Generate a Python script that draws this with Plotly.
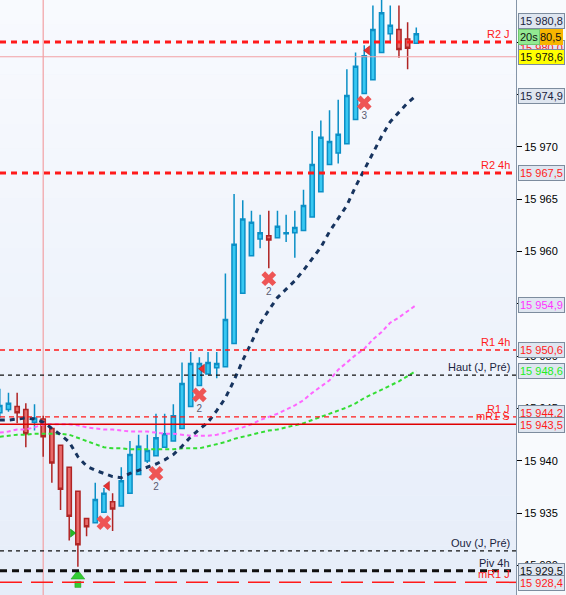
import plotly.graph_objects as go

# ---------------- data ----------------
candle_index = list(range(1, 50))
open_ = [15944.6, 15944.9, 15945.2, 15944.9, 15943.7, 15944.0, 15943.1, 15941.5, 15939.4, 15937.1,
         15934.5, 15934.1, 15935.1, 15936.1, 15935.7, 15936.9, 15938.7, 15940.0, 15940.5, 15941.3,
         15941.9, 15943.1, 15945.2, 15947.2, 15948.3, 15948.9, 15949.0, 15951.2, 15956.0, 15959.6,
         15961.2, 15961.5, 15961.3, 15961.7, 15961.8, 15962.0, 15963.3, 15965.7, 15968.3, 15969.4,
         15970.3, 15972.6, 15975.1, 15976.4, 15979.0, 15980.8, 15981.2, 15980.3, 15979.9]
high = [15946.9, 15946.5, 15946.5, 15945.5, 15945.4, 15944.3, 15943.1, 15941.5, 15939.4, 15937.1,
        15934.5, 15937.9, 15937.4, 15936.9, 15939.4, 15941.9, 15942.5, 15942.5, 15944.5, 15944.5,
        15945.4, 15949.4, 15950.4, 15949.9, 15950.4, 15950.4, 15957.9, 15965.5, 15964.9, 15963.9,
        15963.5, 15963.9, 15963.9, 15963.5, 15963.9, 15965.9, 15971.5, 15972.5, 15973.5, 15974.5,
        15977.4, 15979.0, 15979.7, 15983.5, 15984.5, 15983.5, 15983.5, 15981.9, 15981.4]
low = [15944.1, 15944.7, 15943.6, 15941.3, 15942.9, 15940.4, 15937.9, 15935.3, 15932.4, 15929.9,
       15932.8, 15934.1, 15935.1, 15933.3, 15935.7, 15936.9, 15938.7, 15939.8, 15940.5, 15941.3,
       15941.9, 15943.1, 15945.2, 15947.2, 15948.3, 15947.9, 15949.0, 15951.2, 15956.0, 15959.6,
       15960.3, 15958.4, 15961.3, 15960.9, 15959.4, 15962.0, 15963.3, 15965.7, 15968.3, 15968.4,
       15970.3, 15972.6, 15975.1, 15976.4, 15979.0, 15979.9, 15978.5, 15977.4, 15979.9]
close = [15945.3, 15945.5, 15944.6, 15942.6, 15944.1, 15942.3, 15939.8, 15937.3, 15934.7, 15932.0,
         15933.7, 15936.3, 15936.9, 15935.4, 15938.1, 15940.6, 15941.4, 15941.0, 15942.2, 15942.6,
         15944.3, 15947.4, 15949.3, 15949.3, 15949.4, 15949.3, 15953.5, 15960.7, 15963.1, 15962.8,
         15961.8, 15961.1, 15962.4, 15961.8, 15962.3, 15964.4, 15968.3, 15970.9, 15970.5, 15971.2,
         15974.9, 15977.7, 15978.7, 15981.2, 15982.8, 15981.6, 15979.3, 15979.4, 15980.8]

ma_navy = [15943.9, 15943.9, 15944.0, 15944.1, 15944.0, 15943.7, 15943.1, 15942.5, 15941.8, 15940.4,
           15939.5, 15939.1, 15938.8, 15938.5, 15938.4, 15938.8, 15939.1, 15939.4, 15939.7, 15940.1,
           15940.6, 15941.4, 15942.3, 15943.0, 15943.7, 15944.8, 15946.0, 15947.7, 15949.6, 15951.3,
           15953.1, 15954.4, 15955.6, 15956.4, 15957.2, 15958.2, 15959.3, 15960.4, 15961.9, 15963.1,
           15964.4, 15966.2, 15967.8, 15969.5, 15971.0, 15972.4, 15973.3, 15974.2, 15974.9]
ma_magenta = [15942.7, 15942.8, 15943.0, 15943.0, 15943.2, 15943.5, 15943.5, 15943.5, 15943.5, 15943.4,
              15943.2, 15943.1, 15943.0, 15943.0, 15942.9, 15942.8, 15942.8, 15942.8, 15942.7, 15942.6,
              15942.6, 15942.5, 15942.4, 15942.4, 15942.4, 15942.5, 15942.7, 15943.0, 15943.2, 15943.5,
              15943.9, 15944.2, 15944.5, 15944.9, 15945.3, 15945.8, 15946.5, 15947.1, 15947.7, 15948.7,
              15949.4, 15950.1, 15950.7, 15951.6, 15952.3, 15953.2, 15953.7, 15954.3, 15954.9]
ma_green = [15942.3, 15942.4, 15942.5, 15942.5, 15942.6, 15942.6, 15942.6, 15942.6, 15942.5, 15942.2,
            15941.9, 15941.6, 15941.3, 15941.2, 15941.2, 15941.1, 15941.1, 15941.1, 15941.1, 15941.1,
            15941.1, 15941.2, 15941.2, 15941.2, 15941.4, 15941.6, 15941.8, 15942.1, 15942.3, 15942.5,
            15942.7, 15942.9, 15943.0, 15943.2, 15943.4, 15943.6, 15943.9, 15944.2, 15944.5, 15944.8,
            15945.1, 15945.5, 15946.0, 15946.4, 15946.8, 15947.2, 15947.6, 15948.1, 15948.6]

level_names = ["R2 J", "R2 4h", "R1 4h", "Haut (J, Pré)", "R1 J", "mR1 S", "Ouv (J, Pré)", "Piv 4h", "mR1 J"]
level_values = [15980.0, 15967.5, 15950.6, 15948.2, 15944.2, 15943.5, 15931.4, 15929.5, 15928.4]

prev_close = 15978.6
day_start_index = 6

cross_x = [13, 19, 24, 32, 43]
cross_y = [15934.1, 15938.8, 15946.3, 15957.4, 15974.2]
cross_count = ["", "2", "2", "2", "3"]

red_tri_x = [13.4, 24.35, 43.4]
red_tri_y = [15937.6, 15948.8, 15979.2]
green_tri_x = [9.35]
green_tri_y = [15933.1]
arrow_x = [10]
arrow_head_y = [15929.0]
arrow_stem_y = [15928.2]

box_values = [15980.8, 15980.0, 15978.6, 15974.9, 15967.5, 15954.9, 15950.6, 15948.6,
              15944.2, 15943.5, 15929.5, 15928.4]
box_texts = ["15 980,8", "15 980,0", "15 978,6", "15 974,9", "15 967,5", "15 954,9", "15 950,6",
             "15 948,6", "15 944,2", "15 943,5", "15 929,5", "15 928,4"]
last_price = 15980.5
last_price_text = "80,5"
timer_text = "20s"

# ---------------- styles ----------------
RED = "#ff1a1a"
BLACK = "#101010"
NAVY_TXT = "#1a2440"
level_styles = [
    dict(color=RED, width=3, dash="6px,5px", txt=RED),
    dict(color=RED, width=3, dash="6px,5px", txt=RED),
    dict(color=RED, width=1.5, dash="5px,4px", txt=RED),
    dict(color=BLACK, width=1.3, dash="4px,4px", txt=NAVY_TXT),
    dict(color=RED, width=1.3, dash="5px,4px", txt=RED),
    dict(color="#e00000", width=1.5, dash="solid", txt=RED),
    dict(color=BLACK, width=1.1, dash="4px,4px", txt=NAVY_TXT),
    dict(color=BLACK, width=3, dash="7px,5px", txt=NAVY_TXT),
    dict(color=RED, width=1.5, dash="22px,9px", txt=RED),
]
box_styles = [
    dict(fc=NAVY_TXT, bg="#dfe6f0", ys=12.5),
    dict(fc=RED, bg="#dfe6f0", ys=-6),
    dict(fc=BLACK, bg="#ffff00", ys=0),
    dict(fc=NAVY_TXT, bg="#dfe6f0", ys=-1),
    dict(fc=RED, bg="#dfe6f0", ys=0),
    dict(fc="#ff33ff", bg="#dfe6f0", ys=0),
    dict(fc=RED, bg="#dfe6f0", ys=0),
    dict(fc="#22ee22", bg="#dfe6f0", ys=0),
    dict(fc=RED, bg="#dfe6f0", ys=4),
    dict(fc=RED, bg="#dfe6f0", ys=-1),
    dict(fc=BLACK, bg="#dfe6f0", ys=0),
    dict(fc=RED, bg="#dfe6f0", ys=-1),
]

FONT = "Liberation Sans, Arial, sans-serif"

fig = go.Figure()

fig.add_trace(go.Candlestick(
    x=candle_index, open=open_, high=high, low=low, close=close,
    increasing=dict(fillcolor="#38c8f2", line=dict(color="#0b8fc6", width=1.5)),
    decreasing=dict(fillcolor="#e86a6a", line=dict(color="#b02424", width=1.5)),
    whiskerwidth=0, hoverinfo="skip", showlegend=False,
))

fig.add_trace(go.Scatter(x=candle_index, y=ma_magenta, mode="lines",
                         line=dict(color="#ff66ff", width=2, dash="4px,3px"),
                         hoverinfo="skip", showlegend=False))
fig.add_trace(go.Scatter(x=candle_index, y=ma_green, mode="lines",
                         line=dict(color="#33dd33", width=2, dash="4px,3px"),
                         hoverinfo="skip", showlegend=False))
fig.add_trace(go.Scatter(x=candle_index, y=ma_navy, mode="lines",
                         line=dict(color="#17345f", width=3, dash="5px,5px"),
                         hoverinfo="skip", showlegend=False))

fig.add_trace(go.Scatter(x=cross_x, y=cross_y, mode="markers+text", text=cross_count,
                         textposition="bottom center",
                         textfont=dict(color="#5a5a70", size=10, family=FONT),
                         marker=dict(symbol="x", size=13, color="#ee5555", line=dict(width=0)),
                         hoverinfo="skip", showlegend=False))
fig.add_trace(go.Scatter(x=red_tri_x, y=red_tri_y, mode="markers",
                         marker=dict(symbol="triangle-left", size=8, color="#e83030",
                                     line=dict(width=0.5, color="#a01010")),
                         hoverinfo="skip", showlegend=False))
fig.add_trace(go.Scatter(x=green_tri_x, y=green_tri_y, mode="markers",
                         marker=dict(symbol="triangle-right", size=7, color="#22bb22",
                                     line=dict(width=0.5, color="#117711")),
                         hoverinfo="skip", showlegend=False))
# green buy arrow: stem + head
fig.add_trace(go.Scatter(x=arrow_x, y=arrow_stem_y, mode="markers",
                         marker=dict(symbol="square", size=6, color="#33cc33",
                                     line=dict(width=0.5, color="#1a9a1a")),
                         hoverinfo="skip", showlegend=False))
fig.add_trace(go.Scatter(x=arrow_x, y=arrow_head_y, mode="markers",
                         marker=dict(symbol="triangle-up", size=12, color="#33cc33",
                                     line=dict(width=0.5, color="#1a9a1a")),
                         hoverinfo="skip", showlegend=False))

shapes = []
# background gradient of plot area
n_bands = 24
top_c = (248, 250, 254)
bot_c = (230, 237, 249)
for k in range(n_bands):
    t = k / (n_bands - 1)
    c = tuple(round(bot_c[j] + (top_c[j] - bot_c[j]) * t) for j in range(3))
    shapes.append(dict(type="rect", xref="paper", yref="paper", x0=0, x1=1,
                       y0=k / n_bands, y1=(k + 1) / n_bands, layer="below",
                       line=dict(width=0), fillcolor="rgb(%d,%d,%d)" % c))

# day separator and previous close
shapes.append(dict(type="line", xref="x", yref="paper", x0=day_start_index, x1=day_start_index,
                   y0=0, y1=1, layer="below", line=dict(color="#f2a0a4", width=1.2)))
shapes.append(dict(type="line", xref="paper", yref="y", x0=0, x1=1, y0=prev_close, y1=prev_close,
                   layer="above", line=dict(color="#f2a0a4", width=1.2)))

annotations = []
for name, val, st in zip(level_names, level_values, level_styles):
    shapes.append(dict(type="line", xref="paper", yref="y", x0=0, x1=1, y0=val, y1=val,
                       layer="above", line=dict(color=st["color"], width=st["width"], dash=st["dash"])))
    annotations.append(dict(xref="paper", yref="y", x=0.992, y=val, text=name, showarrow=False,
                            xanchor="right", yanchor="bottom", yshift=0,
                            font=dict(color=st["txt"], size=11, family=FONT)))

for val, txt, st in zip(box_values, box_texts, box_styles):
    annotations.append(dict(xref="paper", yref="y", x=1, y=val, text=txt, showarrow=False,
                            xanchor="left", yanchor="middle", xshift=2, yshift=st["ys"],
                            font=dict(color=st["fc"], size=11, family=FONT),
                            bgcolor=st["bg"], bordercolor="#7d8c9e", borderwidth=1, borderpad=1))

annotations.append(dict(xref="paper", yref="y", x=1, y=last_price, text=last_price_text,
                        showarrow=False, xanchor="left", yanchor="middle", xshift=22,
                        font=dict(color=BLACK, size=11, family=FONT),
                        bgcolor="#f7b500", bordercolor="#f7b500", borderwidth=1, borderpad=1))
annotations.append(dict(xref="paper", yref="y", x=1, y=last_price, text=timer_text,
                        showarrow=False, xanchor="left", yanchor="middle", xshift=2,
                        font=dict(color=BLACK, size=11, family=FONT),
                        bgcolor="#92e892", bordercolor="#6fc86f", borderwidth=1, borderpad=1))

fig.update_layout(
    width=566, height=595, autosize=False,
    margin=dict(l=0, r=50, t=0, b=0),
    paper_bgcolor="#f8fafd",
    plot_bgcolor="#eff3fb",
    separators=", ",
    showlegend=False,
    shapes=shapes,
    annotations=annotations,
    font=dict(family=FONT),
    xaxis=dict(range=[1.023, 60.49], visible=False, rangeslider=dict(visible=False),
               showgrid=False, zeroline=False),
    yaxis=dict(range=[15927.19, 15984.02], side="right", showgrid=False, zeroline=False,
               tickmode="linear", tick0=15930, dtick=5, tickformat=",d",
               ticks="outside", ticklen=5, tickcolor="#000000",
               showline=True, linecolor="#8595a8", linewidth=1,
               tickfont=dict(size=11, color="#000000", family=FONT)),
)

fig.write_html("out.html", config={"displayModeBar": False},
               post_script="document.body.style.margin='0';document.body.style.overflow='hidden';")
